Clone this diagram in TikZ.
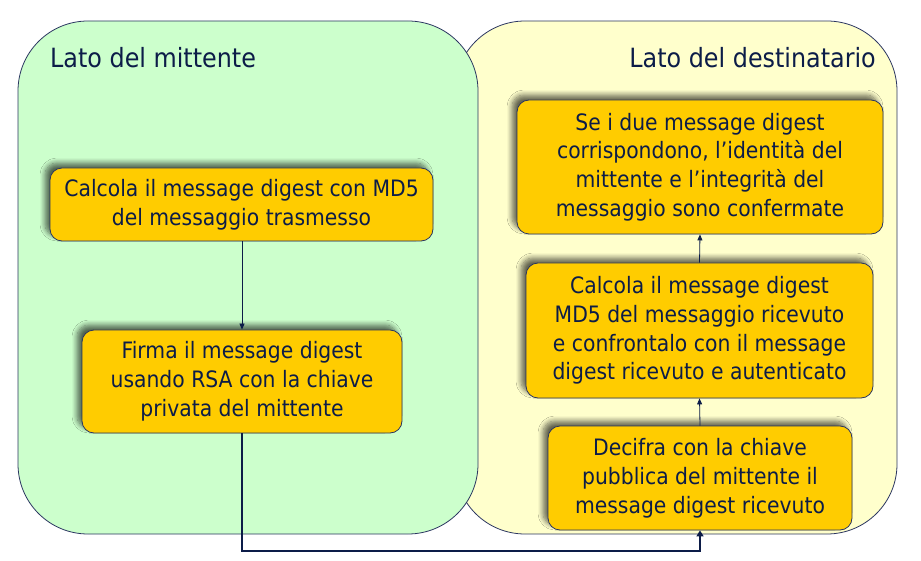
\documentclass[tikz,border=0pt]{standalone}
\usepackage{fontspec}
\setmainfont[FakeStretch=0.9]{DejaVu Sans}
\usetikzlibrary{arrows.meta,shadows.blur}
\definecolor{panelgreen}{HTML}{CCFFCC}
\definecolor{panelyellow}{HTML}{FFFFCC}
\definecolor{boxfill}{HTML}{FFCC00}
\definecolor{navy}{HTML}{0C1C48}
\definecolor{edge}{HTML}{2A3560}
\tikzset{
  panel/.style={draw=edge, line width=0.8pt, rounded corners=70pt},
  stepbox/.style={draw=edge, line width=0.8pt, fill=boxfill, rounded corners=12pt,
    align=center, text=navy, inner sep=0pt,
    font=\fontsize{22.6}{28.8}\selectfont,
    blur shadow={shadow xshift=-5pt, shadow yshift=5pt, shadow blur steps=8, shadow blur radius=5pt, shadow opacity=60}},
  paneltitle/.style={text=navy, font=\fontsize{26.5}{30}\selectfont, inner sep=0pt},
  thin/.style={draw=navy, line width=0.8pt, -{Triangle[length=6pt,width=5pt]}},
  thick/.style={draw=navy, line width=2.6pt, -{Triangle[length=6pt,width=7pt]}}
}
\begin{document}
\begin{tikzpicture}[x=1pt,y=-1pt]
\useasboundingbox (0,0) rectangle (921,561);
% panels
\draw[panel, fill=panelyellow] (455,21) rectangle (897,534);
\draw[panel, fill=panelgreen] (18,21) rectangle (478,534);
\node[paneltitle, anchor=base west] (t1) at (50,68) {Lato del mittente};
\node[paneltitle, anchor=base east] (t2) at (876,68) {Lato del destinatario};
% boxes
\node[stepbox, minimum width=383pt, minimum height=73pt] (A) at (241.5,204.5)
  {Calcola il message digest con MD5\\del messaggio trasmesso};
\node[stepbox, minimum width=320pt, minimum height=103pt] (B) at (242,381.5)
  {Firma il message digest\\usando RSA con la chiave\\privata del mittente};
\node[stepbox, minimum width=366pt, minimum height=134pt] (C) at (700,167)
  {Se i due message digest\\corrispondono, l’identità del\\mittente e l’integrità del\\messaggio sono confermate};
\node[stepbox, minimum width=347pt, minimum height=135pt] (D) at (699.5,330.5)
  {Calcola il message digest\\MD5 del messaggio ricevuto\\e confrontalo con il message\\digest ricevuto e autenticato};
\node[stepbox, minimum width=304pt, minimum height=104pt] (E) at (700,478)
  {Decifra con la chiave\\pubblica del mittente il\\message digest ricevuto};
% connectors
\coordinate (bend1) at (242,551);
\coordinate (bend2) at (700,551);
\draw[thin] (A.south -| 242,0) -- (B.north -| 242,0);
\draw[thin] (E.north) -- (D.south);
\draw[thin] (D.north) -- (C.north |- C.south);
\draw[thick] (B.south) -- (bend1) -- (bend2) -- (E.south);
\end{tikzpicture}
\end{document}
